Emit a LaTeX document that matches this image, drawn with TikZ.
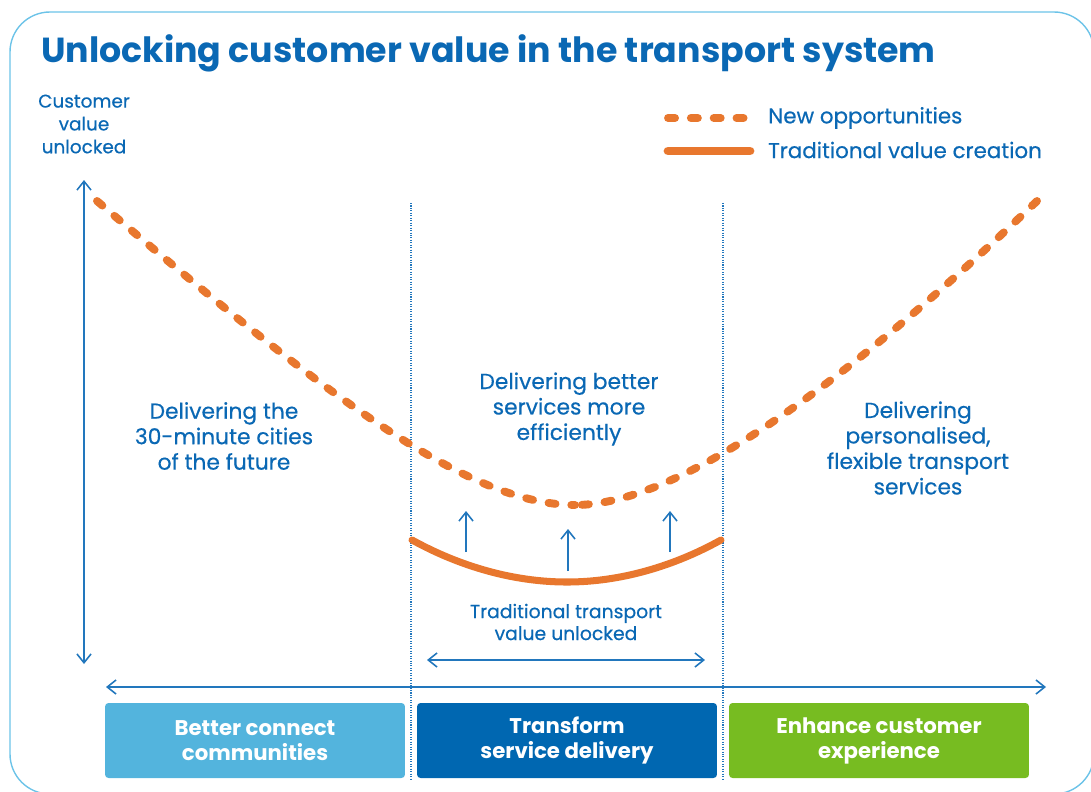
\documentclass[tikz,border=0pt]{standalone}
\usepackage{fontspec}
\setmainfont{Poppins}
\newfontfamily\medfont{Poppins}[FakeBold=0.5]
\usetikzlibrary{arrows.meta}
\definecolor{titleblue}{HTML}{0A68B4}
\definecolor{lineblue}{HTML}{2277BD}
\definecolor{frameblue}{HTML}{6CC3E8}
\definecolor{curveorange}{HTML}{E8772E}
\definecolor{boxlight}{HTML}{53B4DD}
\definecolor{boxdark}{HTML}{0067B1}
\definecolor{boxgreen}{HTML}{77BC21}

\begin{document}
\begin{tikzpicture}[x=0.02cm, y=-0.02cm,
	txt/.style={text=titleblue, align=center, font=\medfont\fontsize{12.4}{14.5}\selectfont},
	barb/.style={lineblue, line width=0.9pt},
	axis/.style={barb, {Straight Barb[length=5pt,width=8pt]}-{Straight Barb[length=5pt,width=8pt]}},
	uparrow/.style={barb, -{Straight Barb[length=5pt,width=8pt]}},
	newopp/.style={curveorange, line width=4.5pt, line cap=round, dash pattern=on 4pt off 9pt},
	tradval/.style={curveorange, line width=4pt, line cap=round},
	divider/.style={lineblue, line width=0.6pt, dash pattern=on 0.6pt off 0.8pt},
	pillar/.style={rounded corners=2pt, minimum width=6cm, minimum height=1.5cm, text=white, align=center,
		font=\bfseries\fontsize{12.1}{14.2}\selectfont}]
	\useasboundingbox (0, 0) rectangle (1091, 791);
	\clip (0, 0) rectangle (1091, 791);
	\draw[frameblue, line width=0.8pt, rounded corners=0.8cm] (10, 12) rectangle (1094, 794);
	
	\node[anchor=base west, text=titleblue, font=\bfseries\fontsize{19.8}{22}\selectfont] (title) at (35, 62)
		{Unlocking customer value in the transport system};
	\node[txt, font=\medfont\fontsize{10.5}{13}\selectfont] (yaxis) at (84, 124) {Customer\\value\\unlocked};
	
	% legend
	\coordinate (leg1a) at (668, 118); \coordinate (leg1b) at (750, 118);
	\coordinate (leg2a) at (668, 151); \coordinate (leg2b) at (750, 151);
	\draw[newopp] (leg1a) -- (leg1b);
	\draw[tradval, line width=5pt] (leg2a) -- (leg2b);
	\node[txt, anchor=west, font=\medfont\fontsize{12.2}{14.5}\selectfont] (legnew) at (762, 118) {New opportunities};
	\node[txt, anchor=west, font=\medfont\fontsize{12.2}{14.5}\selectfont] (legtrad) at (762, 150) {Traditional value creation};
	
	% axes
	\coordinate (ytop) at (84, 180); \coordinate (ybot) at (84, 664);
	\coordinate (xleft) at (106, 687); \coordinate (xright) at (1046, 687);
	\coordinate (ileft) at (427, 660); \coordinate (iright) at (705, 660);
	\draw[axis] (ytop) -- (ybot);
	\draw[axis] (xleft) -- (xright);
	\draw[axis] (ileft) -- (iright);
	\foreach \x/\n in {411/a, 723/b} {
		\coordinate (div\n top) at (\x, 203);
		\coordinate (div\n bot) at (\x, 779);
		\draw[divider] (div\n top) -- (div\n bot);
	}
	
	% curves (each half dashed from its outer end)
	\coordinate (nl) at (97, 201); \coordinate (nm) at (575, 505); \coordinate (nr) at (1037, 201);
	\draw[newopp] (nl) .. controls (330, 400) and (470, 505) .. (nm);
	\draw[newopp] (nr) .. controls (850, 380) and (680, 505) .. (nm);
	\coordinate (tl) at (412, 540); \coordinate (tm) at (567, 582); \coordinate (tr) at (721, 540);
	\draw[tradval] (tl) parabola bend (tm) (tr);
	
	\foreach \x/\y/\t/\n in {466/552/511/a, 568/571/529/b, 670/552/511/c} {
		\coordinate (up\n bot) at (\x, \y);
		\coordinate (up\n top) at (\x, \t);
		\draw[uparrow] (up\n bot) -- (up\n top);
	}
	
	\node[txt] (better) at (569, 409) {Delivering better\\services more\\efficiently};
	\node[txt] (cities) at (224, 436) {Delivering the\\30-minute cities\\of the future};
	\node[txt] (personal) at (918, 448) {Delivering\\personalised,\\flexible transport\\services};
	\node[txt, font=\medfont\fontsize{10.7}{12.5}\selectfont] (tradunl) at (566, 622) {Traditional transport\\value unlocked};
	
	\node[pillar, fill=boxlight] (connect) at (255, 740.5) {Better connect\\communities};
	\node[pillar, fill=boxdark] (transform) at (567, 740.5) {Transform\\service delivery};
	\node[pillar, fill=boxgreen] (enhance) at (879, 740.5) {Enhance customer\\experience};
\end{tikzpicture}
\end{document}
